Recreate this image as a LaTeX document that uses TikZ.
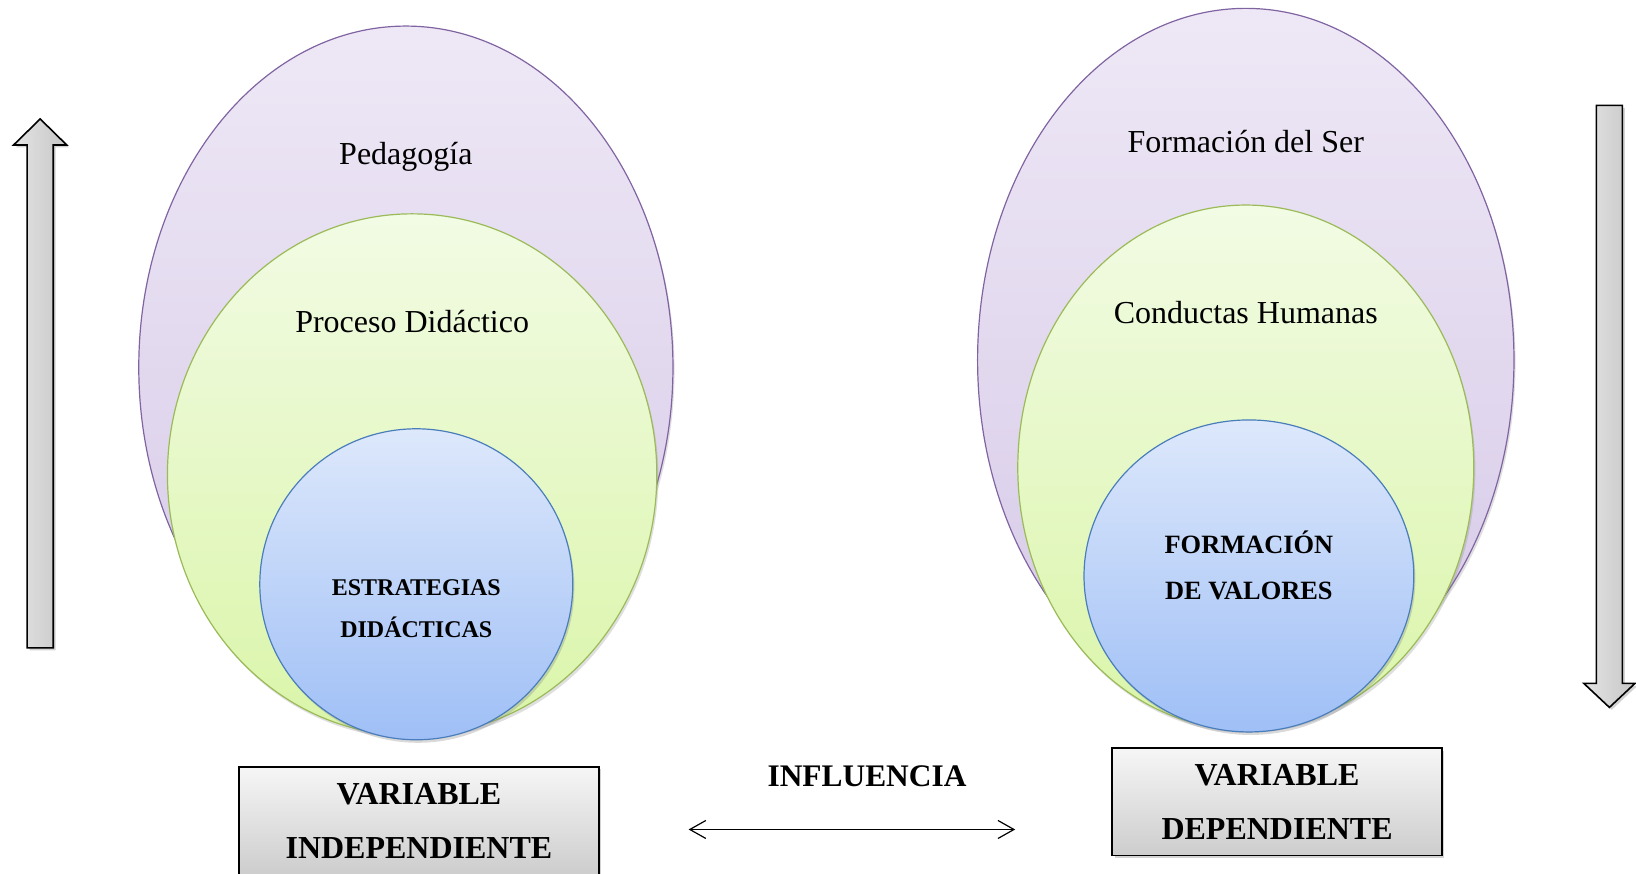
\documentclass[tikz,border=0pt]{standalone}
\usepackage{fontspec}
\setmainfont{Liberation Serif}
\usetikzlibrary{shadows,arrows.meta,shapes.geometric}
\definecolor{purB}{HTML}{8064A2}
\definecolor{purT}{HTML}{EEE8F6}
\definecolor{purD}{HTML}{D6C9E7}
\definecolor{grnB}{HTML}{9BBB59}
\definecolor{grnT}{HTML}{F2FBE4}
\definecolor{grnD}{HTML}{DAF5A9}
\definecolor{bluB}{HTML}{4A7EBB}
\definecolor{bluT}{HTML}{DDE8FB}
\definecolor{bluD}{HTML}{9FBFF6}
\definecolor{boxT}{HTML}{F6F6F6}
\definecolor{boxD}{HTML}{CDCDCD}
\definecolor{arrL}{HTML}{E4E4E4}
\definecolor{arrR}{HTML}{C6C6C6}
\tikzset{
  ell/.style={ellipse, inner sep=0pt, line width=0.6pt},
  purell/.style={ell, draw=purB, top color=purT, bottom color=purD,
    drop shadow={shadow xshift=0.8pt, shadow yshift=-1.5pt, opacity=0.25}},
  grnell/.style={ell, draw=grnB, top color=grnT, bottom color=grnD,
    drop shadow={shadow xshift=0.8pt, shadow yshift=-1.5pt, opacity=0.25}},
  bluell/.style={ell, draw=bluB, top color=bluT, bottom color=bluD,
    drop shadow={shadow xshift=0.8pt, shadow yshift=-1.5pt, opacity=0.3}},
  lab/.style={inner sep=0pt, font=\fontsize{16}{19}\selectfont},
  inlab/.style={inner sep=0pt, align=center, font=\bfseries\fontsize{12}{21}\selectfont},
  inlabR/.style={inner sep=0pt, align=center, font=\bfseries\fontsize{13.2}{23}\selectfont},
  varbox/.style={rectangle, draw=black, line width=0.8pt, top color=boxT, bottom color=boxD,
    align=center, inner sep=0pt, font=\bfseries\fontsize{16}{27}\selectfont,
    drop shadow={shadow xshift=1.2pt, shadow yshift=-1.2pt, opacity=0.35}},
  bigarrow/.style={draw=black, line width=0.8pt, left color=arrL, right color=arrR,
    drop shadow={shadow xshift=1.2pt, shadow yshift=-1.2pt, opacity=0.35}},
}
\begin{document}
\begin{tikzpicture}[x=0.5217pt,y=-0.5217pt]
\useasboundingbox (0,0) rectangle (1568,837);
\clip (0,0) rectangle (1568,837);
% left group
\node[purell, minimum width=267.1pt, minimum height=341.2pt] (lp) at (389,352) {};
\node[grnell, minimum width=244.7pt, minimum height=260.9pt] (lg) at (395,455) {};
\node[bluell, minimum width=156.5pt, minimum height=155.5pt] (lb) at (399,560) {};
\node[lab] (tped) at (389,150) {Pedagogía};
\node[lab] (tpro) at (395,308) {Proceso Didáctico};
\node[inlab] (test) at (399,583) {ESTRATEGIAS\\DIDÁCTICAS};
% right group
\node[purell, minimum width=268.2pt, minimum height=351.6pt] (rp) at (1194,345) {};
\node[grnell, minimum width=228.0pt, minimum height=262.4pt] (rg) at (1194,448) {};
\node[bluell, minimum width=164.9pt, minimum height=156.0pt] (rb) at (1197,552) {};
\node[lab] (tfor) at (1194,136) {Formación del Ser};
\node[lab] (tcon) at (1194,300) {Conductas Humanas};
\node[inlabR] (tval) at (1197,542) {FORMACIÓN\\DE VALORES};
% boxes
\node[varbox, minimum width=180pt, minimum height=53.7pt] (vi) at (401.5,786.5) {VARIABLE\\INDEPENDIENTE};
\node[varbox, minimum width=164.9pt, minimum height=53.7pt] (vd) at (1224,768.5) {VARIABLE\\DEPENDIENTE};
% influence
\node[inner sep=0pt, font=\bfseries\fontsize{15.7}{19}\selectfont] (inf) at (831,744) {INFLUENCIA};
\coordinate (ia) at (660,795);
\coordinate (ib) at (973,795);
\draw[line width=0.6pt, {Straight Barb[length=8pt,width=9pt]}-{Straight Barb[length=8pt,width=9pt]}] (ia) -- (ib);
% big arrows
\path[bigarrow] (26,621) -- (26,139) -- (13,139) -- (38.5,114) -- (64,139) -- (51,139) -- (51,621) -- cycle;
\path[bigarrow] (1530,101) -- (1555,101) -- (1555,655) -- (1567,655) -- (1542.5,678) -- (1518,655) -- (1530,655) -- cycle;
\end{tikzpicture}
\end{document}
